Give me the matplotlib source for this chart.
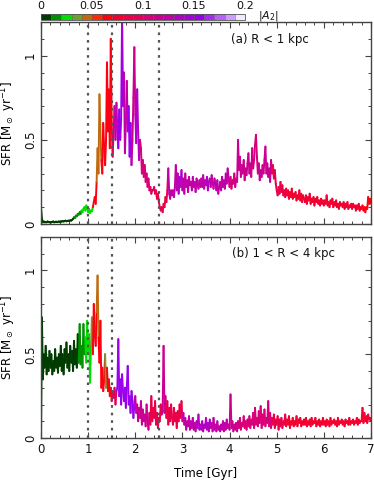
import numpy as np
import matplotlib
matplotlib.use("Agg")
import matplotlib.pyplot as plt
from matplotlib.collections import LineCollection
from matplotlib.colors import ListedColormap, BoundaryNorm
from matplotlib.cm import ScalarMappable
from matplotlib.ticker import MultipleLocator

plt.rcParams['font.family'] = ['DejaVu Sans']

# ---------------- data ----------------
dt = 0.02
sfr_a = [
    0.10, 0.03, 0.01, 0.015, 0.01, 0.012, 0.01, 0.015, 0.012, 0.01,
    0.012, 0.01, 0.013, 0.015, 0.01, 0.012, 0.014, 0.011, 0.013, 0.015,
    0.012, 0.016, 0.014, 0.018, 0.015, 0.017, 0.02, 0.016, 0.018, 0.02,
    0.018, 0.022, 0.02, 0.025, 0.03, 0.04, 0.035, 0.05, 0.045, 0.06,
    0.055, 0.07, 0.06, 0.08, 0.07, 0.09, 0.1, 0.08, 0.11, 0.09,
    0.07, 0.09, 0.065, 0.08, 0.075, 0.1, 0.13, 0.16, 0.12, 0.25,
    0.45, 0.3, 0.77, 0.55, 0.38, 0.3, 0.6, 0.45, 0.35, 0.5,
    0.96, 0.55, 0.8, 0.45, 1.1, 0.6, 0.4, 0.55, 0.7, 0.5,
    0.72, 0.55, 0.45, 0.68, 0.5, 0.62, 1.25, 0.7, 0.9, 0.42,
    0.6, 0.85, 0.55, 0.7, 0.4, 0.6, 0.35, 0.5, 0.75, 1.05,
    0.65, 0.48, 0.8, 0.55, 0.38, 0.5, 0.45, 0.3, 0.38, 0.28,
    0.35, 0.25, 0.3, 0.22, 0.27, 0.2, 0.22, 0.18, 0.2, 0.2,
    0.22, 0.18, 0.2, 0.15, 0.18, 0.13, 0.1, 0.08, 0.1, 0.07,
    0.12, 0.1, 0.16, 0.13, 0.2, 0.33, 0.18, 0.15, 0.2, 0.17,
    0.2, 0.16, 0.22, 0.35, 0.2, 0.3, 0.18, 0.28, 0.22, 0.32,
    0.2, 0.27, 0.18, 0.3, 0.22, 0.26, 0.19, 0.28, 0.23, 0.25,
    0.2, 0.28, 0.22, 0.25, 0.19, 0.27, 0.24, 0.21, 0.26, 0.22,
    0.27, 0.22, 0.29, 0.21, 0.26, 0.23, 0.28, 0.2, 0.25, 0.27,
    0.22, 0.29, 0.25, 0.21, 0.27, 0.24, 0.2, 0.26, 0.18, 0.22,
    0.25, 0.2, 0.28, 0.22, 0.26, 0.21, 0.3, 0.24, 0.33, 0.27,
    0.22, 0.28, 0.21, 0.26, 0.24, 0.3, 0.22, 0.27, 0.25, 0.5,
    0.32, 0.4, 0.28, 0.35, 0.3, 0.38, 0.26, 0.33, 0.29, 0.36,
    0.42, 0.3, 0.36, 0.28, 0.45, 0.33, 0.38, 0.47, 0.53, 0.4,
    0.3, 0.36, 0.26, 0.32, 0.28, 0.35, 0.3, 0.38, 0.46, 0.3,
    0.36, 0.28, 0.33, 0.25, 0.38, 0.3, 0.35, 0.27, 0.32, 0.24,
    0.2, 0.17, 0.22, 0.18, 0.25, 0.19, 0.23, 0.17, 0.2, 0.16,
    0.21, 0.17, 0.2, 0.15, 0.19, 0.16, 0.21, 0.15, 0.18, 0.16,
    0.19, 0.14, 0.17, 0.15, 0.2, 0.14, 0.18, 0.13, 0.17, 0.15,
    0.13, 0.17, 0.12, 0.16, 0.14, 0.18, 0.12, 0.15, 0.13, 0.16,
    0.11, 0.15, 0.13, 0.16, 0.12, 0.14, 0.11, 0.15, 0.12, 0.14,
    0.11, 0.14, 0.12, 0.17, 0.11, 0.13, 0.1, 0.14, 0.12, 0.15,
    0.1, 0.13, 0.11, 0.14, 0.1, 0.12, 0.09, 0.13, 0.11, 0.12,
    0.1, 0.13, 0.09, 0.12, 0.1, 0.13, 0.09, 0.11, 0.1, 0.12,
    0.09, 0.12, 0.1, 0.11, 0.08, 0.11, 0.09, 0.12, 0.08, 0.1,
    0.09, 0.11, 0.08, 0.1, 0.07, 0.1, 0.09, 0.16, 0.12, 0.15,
    0.12,
]
sfr_b = [
    0.0, 0.72, 0.35, 0.5, 0.42, 0.55, 0.38, 0.48, 0.4, 0.52,
    0.42, 0.5, 0.38, 0.46, 0.4, 0.53, 0.42, 0.48, 0.39, 0.5,
    0.43, 0.55, 0.4, 0.5, 0.38, 0.53, 0.45, 0.57, 0.42, 0.5,
    0.4, 0.55, 0.45, 0.52, 0.4, 0.58, 0.44, 0.53, 0.42, 0.62,
    0.45, 0.68, 0.44, 0.55, 0.42, 0.68, 0.5, 0.6, 0.45, 0.7,
    0.5, 0.62, 0.33, 0.55, 0.72, 0.5, 0.8, 0.62, 0.55, 0.75,
    0.97, 0.6, 0.45, 0.7, 0.3, 0.42, 0.28, 0.35, 0.5, 0.3,
    0.42, 0.28, 0.35, 0.25, 0.3, 0.22, 0.28, 0.24, 0.3, 0.2,
    0.28, 0.3, 0.59, 0.25, 0.35, 0.2, 0.38, 0.28, 0.22, 0.3,
    0.18, 0.3, 0.43, 0.2, 0.25, 0.15, 0.28, 0.22, 0.12, 0.2,
    0.25, 0.15, 0.2, 0.1, 0.18, 0.12, 0.22, 0.08, 0.17, 0.1,
    0.14, 0.07, 0.2, 0.1, 0.05, 0.15, 0.08, 0.25, 0.1, 0.18,
    0.12, 0.22, 0.08, 0.15, 0.06, 0.12, 0.1, 0.2, 0.14, 0.16,
    0.55, 0.15, 0.25, 0.12, 0.22, 0.08, 0.18, 0.1, 0.2, 0.12,
    0.08, 0.18, 0.1, 0.15, 0.06, 0.16, 0.1, 0.2, 0.12, 0.22,
    0.1, 0.15, 0.08, 0.12, 0.05, 0.1, 0.07, 0.13, 0.05, 0.1,
    0.06, 0.12, 0.05, 0.09, 0.04, 0.1, 0.06, 0.14, 0.05, 0.08,
    0.05, 0.1, 0.04, 0.08, 0.06, 0.12, 0.05, 0.09, 0.04, 0.11,
    0.06, 0.09, 0.04, 0.12, 0.05, 0.08, 0.04, 0.1, 0.05, 0.07,
    0.04, 0.08, 0.05, 0.1, 0.04, 0.09, 0.05, 0.11, 0.06, 0.08,
    0.05, 0.26, 0.06, 0.1, 0.04, 0.08, 0.05, 0.09, 0.04, 0.1,
    0.06, 0.12, 0.05, 0.09, 0.07, 0.13, 0.06, 0.1, 0.05, 0.11,
    0.07, 0.13, 0.06, 0.11, 0.08, 0.15, 0.06, 0.18, 0.08, 0.12,
    0.07, 0.16, 0.09, 0.19, 0.06, 0.14, 0.08, 0.17, 0.07, 0.12,
    0.09, 0.22, 0.07, 0.15, 0.06, 0.12, 0.08, 0.14, 0.06, 0.11,
    0.08, 0.13, 0.05, 0.11, 0.07, 0.12, 0.06, 0.1, 0.08, 0.14,
    0.07, 0.11, 0.08, 0.13, 0.06, 0.1, 0.08, 0.12, 0.07, 0.1,
    0.08, 0.13, 0.07, 0.11, 0.09, 0.12, 0.07, 0.1, 0.08, 0.11,
    0.08, 0.12, 0.07, 0.1, 0.08, 0.11, 0.07, 0.12, 0.08, 0.1,
    0.09, 0.12, 0.07, 0.1, 0.08, 0.11, 0.07, 0.1, 0.08, 0.12,
    0.08, 0.1, 0.07, 0.11, 0.08, 0.1, 0.07, 0.12, 0.08, 0.1,
    0.09, 0.11, 0.08, 0.1, 0.07, 0.12, 0.08, 0.1, 0.09, 0.11,
    0.08, 0.1, 0.07, 0.11, 0.09, 0.1, 0.08, 0.12, 0.08, 0.1,
    0.09, 0.11, 0.08, 0.1, 0.09, 0.12, 0.08, 0.11, 0.09, 0.1,
    0.1, 0.18, 0.09, 0.15, 0.1, 0.13, 0.09, 0.14, 0.11, 0.12,
    0.1,
]

# |A2| as piecewise values: segment start times and values
a2_a_start = [0, 0.7, 0.86, 1.1, 1.18, 1.28, 1.5, 1.56, 1.64, 1.72, 1.76, 1.86,
              1.92, 2.0, 2.1, 2.3, 2.45, 2.7, 2.9, 3.0, 3.5, 3.6, 4.0, 4.15,
              4.5, 4.6, 4.9, 5.2, 6.8]
a2_a_val = [0.005, 0.015, 0.025, 0.06, 0.045, 0.065, 0.095, 0.12, 0.15, 0.145,
            0.125, 0.155, 0.11, 0.13, 0.105, 0.095, 0.085, 0.12, 0.135, 0.125,
            0.135, 0.125, 0.105, 0.115, 0.1, 0.11, 0.085, 0.075, 0.065]
a2_b_start = [0, 0.8, 0.94, 1.06, 1.1, 1.18, 1.22, 1.36, 1.4, 1.5, 1.6, 2.0,
              2.3, 2.56, 2.66, 3.0, 3.3, 3.6, 4.0, 4.2, 4.9, 5.2]
a2_b_val = [0.005, 0.015, 0.025, 0.035, 0.06, 0.045, 0.065, 0.035, 0.065,
            0.095, 0.15, 0.115, 0.085, 0.11, 0.085, 0.125, 0.135, 0.125, 0.115,
            0.1, 0.085, 0.07]

event_times = [1.0, 1.5, 2.5]
panel_labels = ['(a) R < 1 kpc', '(b) 1 < R < 4 kpc']
xticks = [0, 1, 2, 3, 4, 5, 6, 7]
yticks = [0, 0.5, 1]
yticklabels = ['0', '0.5', '1']
cbar_ticks = [0, 0.05, 0.1, 0.15, 0.2]
cbar_labels = ['0', '0.05', '0.1', '0.15', '0.2']

colors20 = ['#003c00', '#009000', '#00e000', '#6ca030', '#c06a10',
            '#ff2a00', '#ff0010', '#f40030', '#ea0048', '#e2005e',
            '#d80078', '#cc0090', '#c200a8', '#b400c4', '#a600dc',
            '#9a00ee', '#a62af4', '#b860f8', '#cc9cff', '#f0eaff']
cmap = ListedColormap(colors20)
norm = BoundaryNorm(np.linspace(0, 0.2, 21), cmap.N)

# ---------------- figure ----------------
W, H = 374, 483
fig = plt.figure(figsize=(W / 100, H / 100), dpi=100)

def fx(px):
    return px / W

def fy(py):
    return 1 - py / H

ax_a = fig.add_axes([fx(41), fy(224), fx(371) - fx(41), fy(22) - fy(224)])
ax_b = fig.add_axes([fx(41), fy(438), fx(371) - fx(41), fy(237) - fy(438)])
cax = fig.add_axes([fx(41), fy(19.5), fx(245) - fx(41), fy(13.5) - fy(19.5)])

frame_col = '#444444'

def draw_panel(ax, sfr, a2_start, a2_val, show_x):
    sfr = np.asarray(sfr)
    t = np.arange(len(sfr)) * dt
    pts = np.column_stack([t, sfr]).reshape(-1, 1, 2)
    segs = np.concatenate([pts[:-1], pts[1:]], axis=1)
    tmid = 0.5 * (t[:-1] + t[1:])
    idx = np.searchsorted(np.asarray(a2_start), tmid, side='right') - 1
    vals = np.asarray(a2_val)[idx]
    lc = LineCollection(segs, colors=cmap(norm(vals)), linewidth=1.4,
                        capstyle='round', joinstyle='round')
    ax.add_collection(lc)
    for et in event_times:
        ax.axvline(et, color='#555555', linestyle=(0, (1.2, 2.2)), linewidth=1.6,
                   zorder=3)
    ax.set_xlim(0, 7)
    ax.set_ylim(0, 1.2)
    ax.set_xticks(xticks)
    ax.xaxis.set_minor_locator(MultipleLocator(0.2))
    ax.set_yticks(yticks)
    ax.set_yticklabels(yticklabels, rotation=90, va='center')
    ax.yaxis.set_minor_locator(MultipleLocator(0.1))
    ax.tick_params(which='both', direction='in', top=True, right=True,
                   color=frame_col, labelsize=8.5, labelcolor='#111111')
    ax.tick_params(which='major', length=4.5, width=0.8)
    ax.tick_params(which='minor', length=2.2, width=0.7)
    ax.tick_params(axis='y', pad=3)
    for s in ax.spines.values():
        s.set_color(frame_col)
        s.set_linewidth(1.0)
    if not show_x:
        ax.set_xticklabels([])
    else:
        ax.set_xticklabels([str(v) for v in xticks])
        ax.set_xlabel('Time [Gyr]', fontsize=8.5, labelpad=8)
    ax.set_ylabel(r'SFR [M$_\odot$ yr$^{-1}$]', fontsize=8.5, labelpad=4)
    return ax

draw_panel(ax_a, sfr_a, a2_a_start, a2_a_val, False)
draw_panel(ax_b, sfr_b, a2_b_start, a2_b_val, True)
ax_a.text(0.694, 0.915, panel_labels[0], transform=ax_a.transAxes,
          ha='center', va='center', fontsize=8.5, color='#111111')
ax_b.text(0.736, 0.92, panel_labels[1], transform=ax_b.transAxes,
          ha='center', va='center', fontsize=8.5, color='#111111')

sm = ScalarMappable(norm=norm, cmap=cmap)
cb = fig.colorbar(sm, cax=cax, orientation='horizontal', ticks=cbar_ticks,
                  drawedges=True)
cb.ax.set_xticklabels(cbar_labels)
cb.ax.xaxis.set_ticks_position('top')
cb.ax.tick_params(length=0, labelsize=8, pad=2, labelcolor='#111111')
cb.outline.set_edgecolor('#555555')
cb.outline.set_linewidth(0.6)
cb.dividers.set_color('#666666')
cb.dividers.set_linewidth(0.4)
cb.ax.minorticks_off()
fig.text(fx(258), fy(16), r'$|A_2|$', fontsize=8, va='center', ha='left',
         color='#111111')

fig.savefig('out.png', dpi=100)
